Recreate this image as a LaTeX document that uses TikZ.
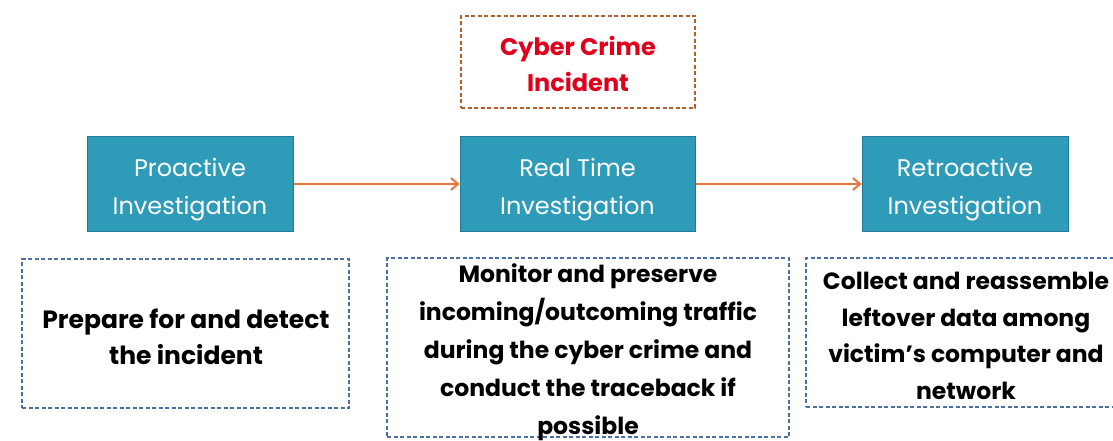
\documentclass[tikz,border=0pt]{standalone}
\usepackage{fontspec}
\setmainfont{Poppins}
\usetikzlibrary{arrows.meta}
\definecolor{teal1}{HTML}{2E9BB8}
\definecolor{teal2}{HTML}{217A92}
\definecolor{orng}{HTML}{E8763A}
\definecolor{brwn}{HTML}{B5602A}
\definecolor{dblue}{HTML}{4A6FA0}
\definecolor{red1}{HTML}{E0001B}
\begin{document}
\begin{tikzpicture}[x=1pt,y=-1pt,
  stage/.style={draw=teal2,line width=1pt,fill=teal1,text=white,align=center,
    font=\fontsize{24}{38}\selectfont,inner sep=0pt},
  note/.style={draw=dblue,line width=1.5pt,dash pattern=on 4pt off 2.5pt,align=center,inner sep=0pt},
  incid/.style={draw=brwn,line width=1.5pt,dash pattern=on 4pt off 2.5pt,align=center,inner sep=0pt},
  link/.style={draw=orng,line width=2pt,-{Straight Barb[length=7pt,width=12pt,line width=2pt]}}]
\useasboundingbox[fill=white] (0,0) rectangle (1113,441);
\node[incid,minimum width=234pt,minimum height=92pt] (inc) at (578,62) {};
\node[text=red1,font=\fontsize{24}{36}\selectfont\bfseries,align=center] (inct) at (578,64) {Cyber Crime\\Incident};
\node[stage,minimum width=206pt,minimum height=94pt] (pro) at (190,184) {};
\node[stage,minimum width=235pt,minimum height=94pt] (rt) at (577.5,184) {};
\node[stage,minimum width=206pt,minimum height=94pt] (retro) at (965,184) {};
\node[text=white,font=\fontsize{24}{38}\selectfont,align=center] (prot) at (pro.center) [yshift=-6pt] {Proactive\\Investigation};
\node[text=white,font=\fontsize{24}{38}\selectfont,align=center] (rtt) at (rt.center) [yshift=-6pt] {Real Time\\Investigation};
\node[text=white,font=\fontsize{24}{38}\selectfont,align=center] (retrot) at (retro.center) [yshift=-6pt] {Retroactive\\Investigation};
\draw[link] (pro.east) -- (rt.west);
\draw[link] (rt.east) -- (retro.west);
\node[note,minimum width=327pt,minimum height=149pt] (n1) at (185.5,333.5) {};
\node[font=\fontsize{25}{36}\selectfont\bfseries,align=center] (n1t) at (186,337) {Prepare for and detect\\the incident};
\node[note,minimum width=402pt,minimum height=179pt] (n2) at (588,347.5) {};
\node[font=\fontsize{23.5}{38}\selectfont\bfseries,align=center] (n2t) at (588,352) {Monitor and preserve\\incoming/outcoming traffic\\during the cyber crime and\\conduct the traceback if\\possible};
\node[note,minimum width=310pt,minimum height=149pt] (n3) at (961,332.5) {};
\node[font=\fontsize{23.5}{36.5}\selectfont\bfseries,align=center] (n3t) at (966,336) {Collect and reassemble\\leftover data among\\victim’s computer and\\network};
\end{tikzpicture}
\end{document}
